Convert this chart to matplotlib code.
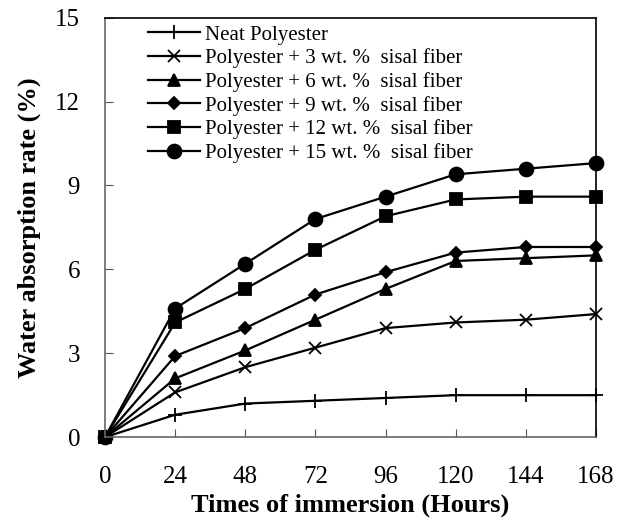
import numpy as np
import matplotlib
matplotlib.use("Agg")
import matplotlib.pyplot as plt

plt.rcParams['font.family'] = ['Liberation Serif', 'DejaVu Serif']

# Immersion time (hours) and water absorption (%) per composition
hours = [0, 24, 48, 72, 96, 120, 144, 168]
neat = [0, 0.8, 1.2, 1.3, 1.4, 1.5, 1.5, 1.5]
sisal_3 = [0, 1.6, 2.5, 3.2, 3.9, 4.1, 4.2, 4.4]
sisal_6 = [0, 2.1, 3.1, 4.2, 5.3, 6.3, 6.4, 6.5]
sisal_9 = [0, 2.9, 3.9, 5.1, 5.9, 6.6, 6.8, 6.8]
sisal_12 = [0, 4.1, 5.3, 6.7, 7.9, 8.5, 8.6, 8.6]
sisal_15 = [0, 4.6, 6.2, 7.8, 8.6, 9.4, 9.6, 9.8]

labels = ['Neat Polyester',
          'Polyester + 3 wt. %  sisal fiber',
          'Polyester + 6 wt. %  sisal fiber',
          'Polyester + 9 wt. %  sisal fiber',
          'Polyester + 12 wt. %  sisal fiber',
          'Polyester + 15 wt. %  sisal fiber']
series = [neat, sisal_3, sisal_6, sisal_9, sisal_12, sisal_15]
markers = ['+', 'x', '^', 'D', 's', 'o']
sizes = [10, 9, 8, 6, 8, 10]

fig = plt.figure(figsize=(6.27, 5.21), dpi=100)
ax = fig.add_axes([0.1675, 0.161, 0.783, 0.805])

for i, values in enumerate(series):
    ax.plot(hours, values, color='black', linewidth=1.6, marker=markers[i],
            markersize=sizes[i], markeredgewidth=1.3, label=labels[i],
            clip_on=False)

ax.set_xlim(0, 168)
ax.set_ylim(0, 15)
ax.set_xticks(hours)
ax.set_yticks(np.arange(0, 16, 3))
ax.tick_params(axis='both', direction='in', labelsize=18, length=6, color='#555555')
ax.tick_params(axis='x', pad=21)
ax.tick_params(axis='y', pad=18)
for side in ['left', 'bottom']:
    ax.spines[side].set_color('#666666')
    ax.spines[side].set_linewidth(1.2)
for side in ['top', 'right']:
    ax.spines[side].set_color('black')
    ax.spines[side].set_linewidth(1.2)

ax.set_xlabel('Times of immersion (Hours)', fontsize=19, fontweight='bold', labelpad=4)
ax.set_ylabel('Water absorption rate (%)', fontsize=19, fontweight='bold', labelpad=10)

ax.legend(loc='upper left', frameon=False, fontsize=15, labelspacing=0.18,
          handlelength=2.5, handletextpad=0.25, borderaxespad=0.0,
          borderpad=0.35, bbox_to_anchor=(0.072, 1.0))

fig.savefig('out.png', dpi=100)
